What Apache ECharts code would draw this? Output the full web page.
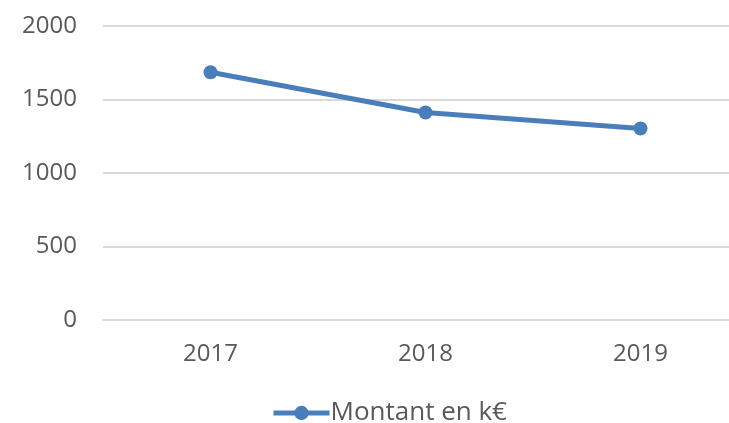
<!DOCTYPE html>
<html>
<head>
<meta charset="utf-8">
<script src="https://cdn.jsdelivr.net/npm/echarts@6/dist/echarts.min.js"></script>
<style>
  html, body { margin: 0; padding: 0; background: #fff; }
  #chart { width: 729px; height: 423px; }
</style>
</head>
<body>
<div id="chart"></div>
<script>
// données
const years = ["2017", "2018", "2019"];
const montants = [1685, 1412, 1303];
const yTicks = [0, 500, 1000, 1500, 2000];

const textColor = "#595959";
const font = "'Open Sans', 'DejaVu Sans', sans-serif";

const myChart = echarts.init(document.getElementById("chart"));
myChart.setOption({
  animation: false,
  grid: {
    left: 103,
    width: 645,
    top: 26,
    bottom: 103,
    containLabel: false,
    outerBoundsMode: "none"
  },
  legend: {
    data: ["Montant en k€"],
    left: 266,
    top: 395,
    itemWidth: 56,
    itemHeight: 18,
    itemGap: 0,
    lineStyle: { width: 5 },
    textStyle: { color: textColor, fontSize: 26, fontFamily: font, padding: [0, 0, 0, -4] }
  },
  xAxis: {
    type: "category",
    data: years,
    boundaryGap: true,
    axisTick: { show: false },
    axisLine: { lineStyle: { color: "#d9d9d9", width: 2 } },
    axisLabel: { color: textColor, fontSize: 24, fontFamily: font, margin: 22 }
  },
  yAxis: {
    type: "value",
    min: yTicks[0],
    max: yTicks[yTicks.length - 1],
    interval: 500,
    axisLine: { show: false },
    axisTick: { show: false },
    splitLine: { lineStyle: { color: "#d9d9d9", width: 2 } },
    axisLabel: {
      color: textColor,
      fontSize: 24,
      fontFamily: font,
      margin: 26,
      formatter: v => String(v)
    }
  },
  series: [
    {
      name: "Montant en k€",
      type: "line",
      data: montants,
      symbol: "circle",
      symbolSize: 14,
      lineStyle: { color: "#4a7ebb", width: 5 },
      itemStyle: { color: "#4a7ebb" }
    }
  ]
});
</script>
</body>
</html>
